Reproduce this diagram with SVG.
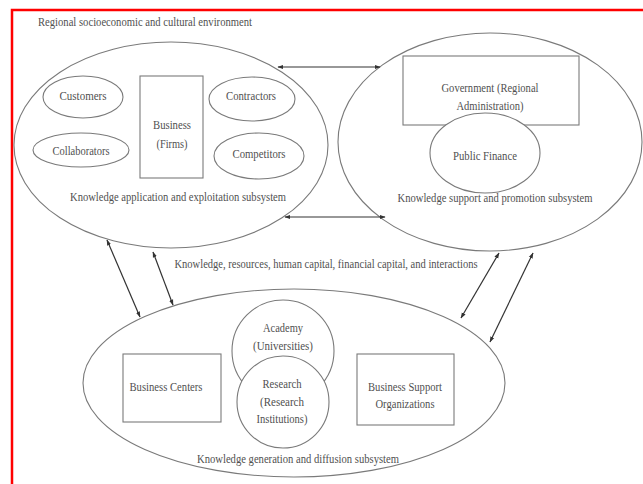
<svg xmlns="http://www.w3.org/2000/svg" width="643" height="484" viewBox="0 0 643 484">
<style>
.sh{fill:#fff;stroke:#7a7a7a;stroke-width:1.1}
.t{font-family:"Liberation Serif","Times New Roman",serif;font-size:13px;fill:#505050;text-anchor:middle}
.tl{font-family:"Liberation Serif","Times New Roman",serif;font-size:13px;fill:#505050}
.c{stroke:#333;stroke-width:1.2;fill:none;marker-start:url(#ah);marker-end:url(#ah)}
</style>
<defs>
<marker id="ah" viewBox="0 0 10 10" refX="9" refY="5" markerWidth="6" markerHeight="6" orient="auto-start-reverse" markerUnits="userSpaceOnUse">
<path d="M0,1.5 L10,5 L0,8.5 Z" fill="#333"/>
</marker>
</defs>
<rect width="643" height="484" fill="#fff"/>
<path d="M12,484 V10 H643" fill="none" stroke="#f00" stroke-width="2.5"/>
<text class="tl" x="38" y="26" textLength="214" lengthAdjust="spacingAndGlyphs">Regional socioeconomic and cultural environment</text>

<g id="application">
<ellipse class="sh" cx="171" cy="145" rx="157" ry="103"/>
<text class="t" x="178" y="201" textLength="216" lengthAdjust="spacingAndGlyphs">Knowledge application and exploitation subsystem</text>
</g>
<g id="customers">
<ellipse class="sh" cx="83" cy="97" rx="40" ry="21"/>
<text class="t" x="83" y="100" textLength="47" lengthAdjust="spacingAndGlyphs">Customers</text>
</g>
<g id="collaborators">
<ellipse class="sh" cx="81" cy="150" rx="48" ry="17"/>
<text class="t" x="81" y="155" textLength="57" lengthAdjust="spacingAndGlyphs">Collaborators</text>
</g>
<g id="business">
<rect class="sh" x="140" y="76" width="63" height="102"/>
<text class="t" x="172" y="129" textLength="38" lengthAdjust="spacingAndGlyphs">Business</text>
<text class="t" x="172" y="148" textLength="31" lengthAdjust="spacingAndGlyphs">(Firms)</text>
</g>
<g id="contractors">
<ellipse class="sh" cx="252" cy="99" rx="43" ry="22"/>
<text class="t" x="251" y="100" textLength="50" lengthAdjust="spacingAndGlyphs">Contractors</text>
</g>
<g id="competitors">
<ellipse class="sh" cx="259" cy="156" rx="45" ry="23"/>
<text class="t" x="259" y="158" textLength="53" lengthAdjust="spacingAndGlyphs">Competitors</text>
</g>

<g id="support">
<ellipse class="sh" cx="490" cy="142" rx="152" ry="109"/>
<text class="t" x="495" y="202" textLength="195" lengthAdjust="spacingAndGlyphs">Knowledge support and promotion subsystem</text>
</g>
<g id="government">
<rect class="sh" x="403" y="56" width="176" height="69"/>
<text class="t" x="490" y="92" textLength="97" lengthAdjust="spacingAndGlyphs">Government (Regional</text>
<text class="t" x="490" y="110" textLength="67" lengthAdjust="spacingAndGlyphs">Administration)</text>
</g>
<g id="finance">
<ellipse class="sh" cx="485" cy="153" rx="55" ry="40"/>
<text class="t" x="485" y="160" textLength="64" lengthAdjust="spacingAndGlyphs">Public Finance</text>
</g>

<g id="generation">
<ellipse class="sh" cx="294" cy="383" rx="211" ry="94"/>
<text class="t" x="298" y="463" textLength="202" lengthAdjust="spacingAndGlyphs">Knowledge generation and diffusion subsystem</text>
</g>
<g id="business-centers">
<rect class="sh" x="123" y="354" width="98" height="68"/>
<text class="t" x="166" y="391" textLength="73" lengthAdjust="spacingAndGlyphs">Business Centers</text>
</g>
<g id="academy">
<circle class="sh" cx="283" cy="351" r="51"/>
<text class="t" x="283" y="332" textLength="40" lengthAdjust="spacingAndGlyphs">Academy</text>
<text class="t" x="283" y="350" textLength="60" lengthAdjust="spacingAndGlyphs">(Universities)</text>
</g>
<g id="research">
<circle class="sh" cx="283" cy="402" r="46"/>
<text class="t" x="282" y="388" textLength="39" lengthAdjust="spacingAndGlyphs">Research</text>
<text class="t" x="282" y="406" textLength="44" lengthAdjust="spacingAndGlyphs">(Research</text>
<text class="t" x="282" y="423" textLength="51" lengthAdjust="spacingAndGlyphs">Institutions)</text>
</g>
<g id="business-support">
<rect class="sh" x="357" y="354" width="97" height="71"/>
<text class="t" x="405" y="391" textLength="74" lengthAdjust="spacingAndGlyphs">Business Support</text>
<text class="t" x="405" y="408" textLength="59" lengthAdjust="spacingAndGlyphs">Organizations</text>
</g>

<text class="t" x="326" y="268" textLength="303" lengthAdjust="spacingAndGlyphs">Knowledge, resources, human capital, financial capital, and interactions</text>

<g id="connectors">
<line class="c" x1="278" y1="67" x2="380" y2="67"/>
<line class="c" x1="285" y1="217" x2="385" y2="217"/>
<line class="c" x1="107" y1="240" x2="140" y2="317"/>
<line class="c" x1="153" y1="252" x2="173" y2="305"/>
<line class="c" x1="499" y1="253" x2="461" y2="318"/>
<line class="c" x1="533" y1="253" x2="490" y2="342"/>
</g>
</svg>
